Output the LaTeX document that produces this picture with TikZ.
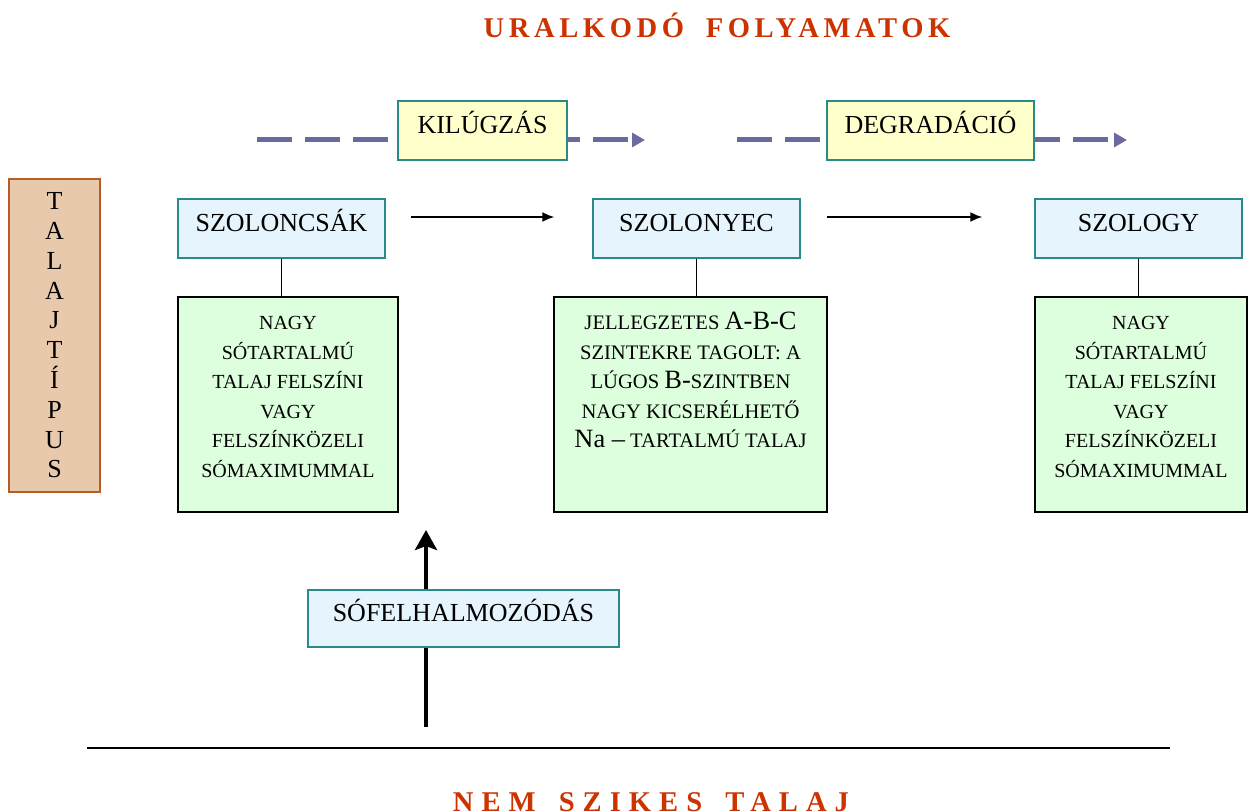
\documentclass[tikz,border=0pt]{standalone}
\usepackage{fontspec}
\setmainfont{Liberation Serif}
\usepackage{xcolor}
\usetikzlibrary{arrows.meta,positioning,calc}

\definecolor{titlered}{HTML}{CC3300}
\definecolor{boxteal}{HTML}{2A8A8A}
\definecolor{boxblue}{HTML}{E6F4FD}
\definecolor{procyellow}{HTML}{FFFFCC}
\definecolor{soilgreen}{HTML}{DDFFDD}
\definecolor{tantype}{HTML}{E8C9AC}
\definecolor{tanedge}{HTML}{B85A2A}
\definecolor{dashviolet}{HTML}{6A6AA0}

\newcommand{\bigtxt}[1]{{\fontsize{13.2}{14.8}\selectfont #1}}

\begin{document}
\begin{tikzpicture}[x=0.5pt, y=-0.5pt,
    labelbox/.style={rectangle, draw=boxteal, line width=0.6pt, inner sep=0pt,
      minimum height=29.5pt, text height=9pt, text depth=5.9pt,
      font=\fontsize{13}{15}\selectfont},
    typebox/.style={labelbox, fill=boxblue, minimum width=103.5pt},
    procbox/.style={labelbox, fill=procyellow},
    soilbox/.style={rectangle, draw=black, line width=0.6pt, fill=soilgreen, inner sep=0pt,
      font=\fontsize{10}{14.8}\selectfont},
    headline/.style={anchor=base, text=titlered},
    flow/.style={-{Latex[length=6pt,width=5pt]}, line width=1pt},
    process/.style={dashviolet, line width=2.5pt, dash pattern=on 17.5pt off 6.5pt,
      -{Triangle[length=6.5pt,width=7pt]}}]
\useasboundingbox (0,0) rectangle (1248,812);

% headings
\node[headline, font=\bfseries\fontsize{14.3}{17}\selectfont\addfontfeature{LetterSpace=16}] (uralk) at (717,38) {URALKODÓ\hspace{5pt} FOLYAMATOK};
\node[headline, font=\bfseries\fontsize{14.3}{17}\selectfont\addfontfeature{LetterSpace=28}] (nemszik) at (651,811) {NEM\hspace{4pt} SZIKES\hspace{4pt} TALAJ};

% talajtipus
\node[rectangle, draw=tanedge, line width=0.6pt, fill=tantype, minimum width=45.5pt, minimum height=156.5pt,
  align=center, font=\fontsize{13}{14.9}\selectfont] (tipus) at (54.5,335.5)
  {T\\A\\L\\A\\J\\T\\Í\\P\\U\\S};

% processes
\coordinate (kils) at (257,140);
\coordinate (kile) at (645,140);
\coordinate (degs) at (737,140);
\coordinate (dege) at (1127,140);
\draw[process] (kils) -- (kile);
\draw[process] (degs) -- (dege);
\node[procbox, minimum width=84.5pt] (kilugz) at (482.5,130.5) {KILÚGZÁS};
\node[procbox, minimum width=103.5pt] (degrad) at (930.5,130.5) {DEGRADÁCIÓ};

% soil types
\node[typebox] (szcsak) at (281.5,228.5) {SZOLONCSÁK};
\node[typebox] (sznyec) at (696.5,228.5) {SZOLONYEC};
\node[typebox] (szlogy) at (1138.5,228.5) {SZOLOGY};

\draw[flow] ([shift={(25,-11.5)}]szcsak.east) -- ([shift={(-38,-11.5)}]sznyec.west);
\draw[flow] ([shift={(26,-11.5)}]sznyec.east) -- ([shift={(-52,-11.5)}]szlogy.west);

% descriptions
\node[soilbox] (leir1) at (288,404.5)
  {\parbox[c][107.5pt][t]{110pt}{\centering\rule{0pt}{16.25pt}NAGY\\ SÓTARTALMÚ\\ TALAJ FELSZÍNI\\ VAGY\\ FELSZÍNKÖZELI\\ SÓMAXIMUMMAL}};
\node[soilbox, font=\fontsize{10.3}{14.8}\selectfont] (leir2) at (690.5,404.5)
  {\parbox[c][107.5pt][t]{136.5pt}{\centering\rule{0pt}{16.25pt}JELLEGZETES \bigtxt{A-B-C}\\ SZINTEKRE TAGOLT: A\\ LÚGOS \bigtxt{B-}SZINTBEN\\ NAGY KICSERÉLHETŐ\\ \bigtxt{Na –} TARTALMÚ TALAJ}};
\node[soilbox] (leir3) at (1141,404.5)
  {\parbox[c][107.5pt][t]{106pt}{\centering\rule{0pt}{16.25pt}NAGY\\ SÓTARTALMÚ\\ TALAJ FELSZÍNI\\ VAGY\\ FELSZÍNKÖZELI\\ SÓMAXIMUMMAL}};

\draw[line width=0.6pt] (szcsak.south) -- (szcsak.south |- leir1.north);
\draw[line width=0.6pt] (sznyec.south) -- (sznyec.south |- leir2.north);
\draw[line width=0.6pt] (szlogy.south) -- (szlogy.south |- leir3.north);

% salt accumulation
\coordinate (sotalp) at (426,727);
\coordinate (socsucs) at (426,530);
\draw[line width=2pt, -{Stealth[length=10pt,width=11pt,inset=2pt]}] (sotalp) -- (socsucs);
\node[labelbox, fill=boxblue, minimum width=155.5pt, minimum height=28.5pt] (sofelh) at (463.5,618.5) {SÓFELHALMOZÓDÁS};

% base line
\draw[line width=0.75pt] (87,748) -- (1170,748);
\end{tikzpicture}
\end{document}
